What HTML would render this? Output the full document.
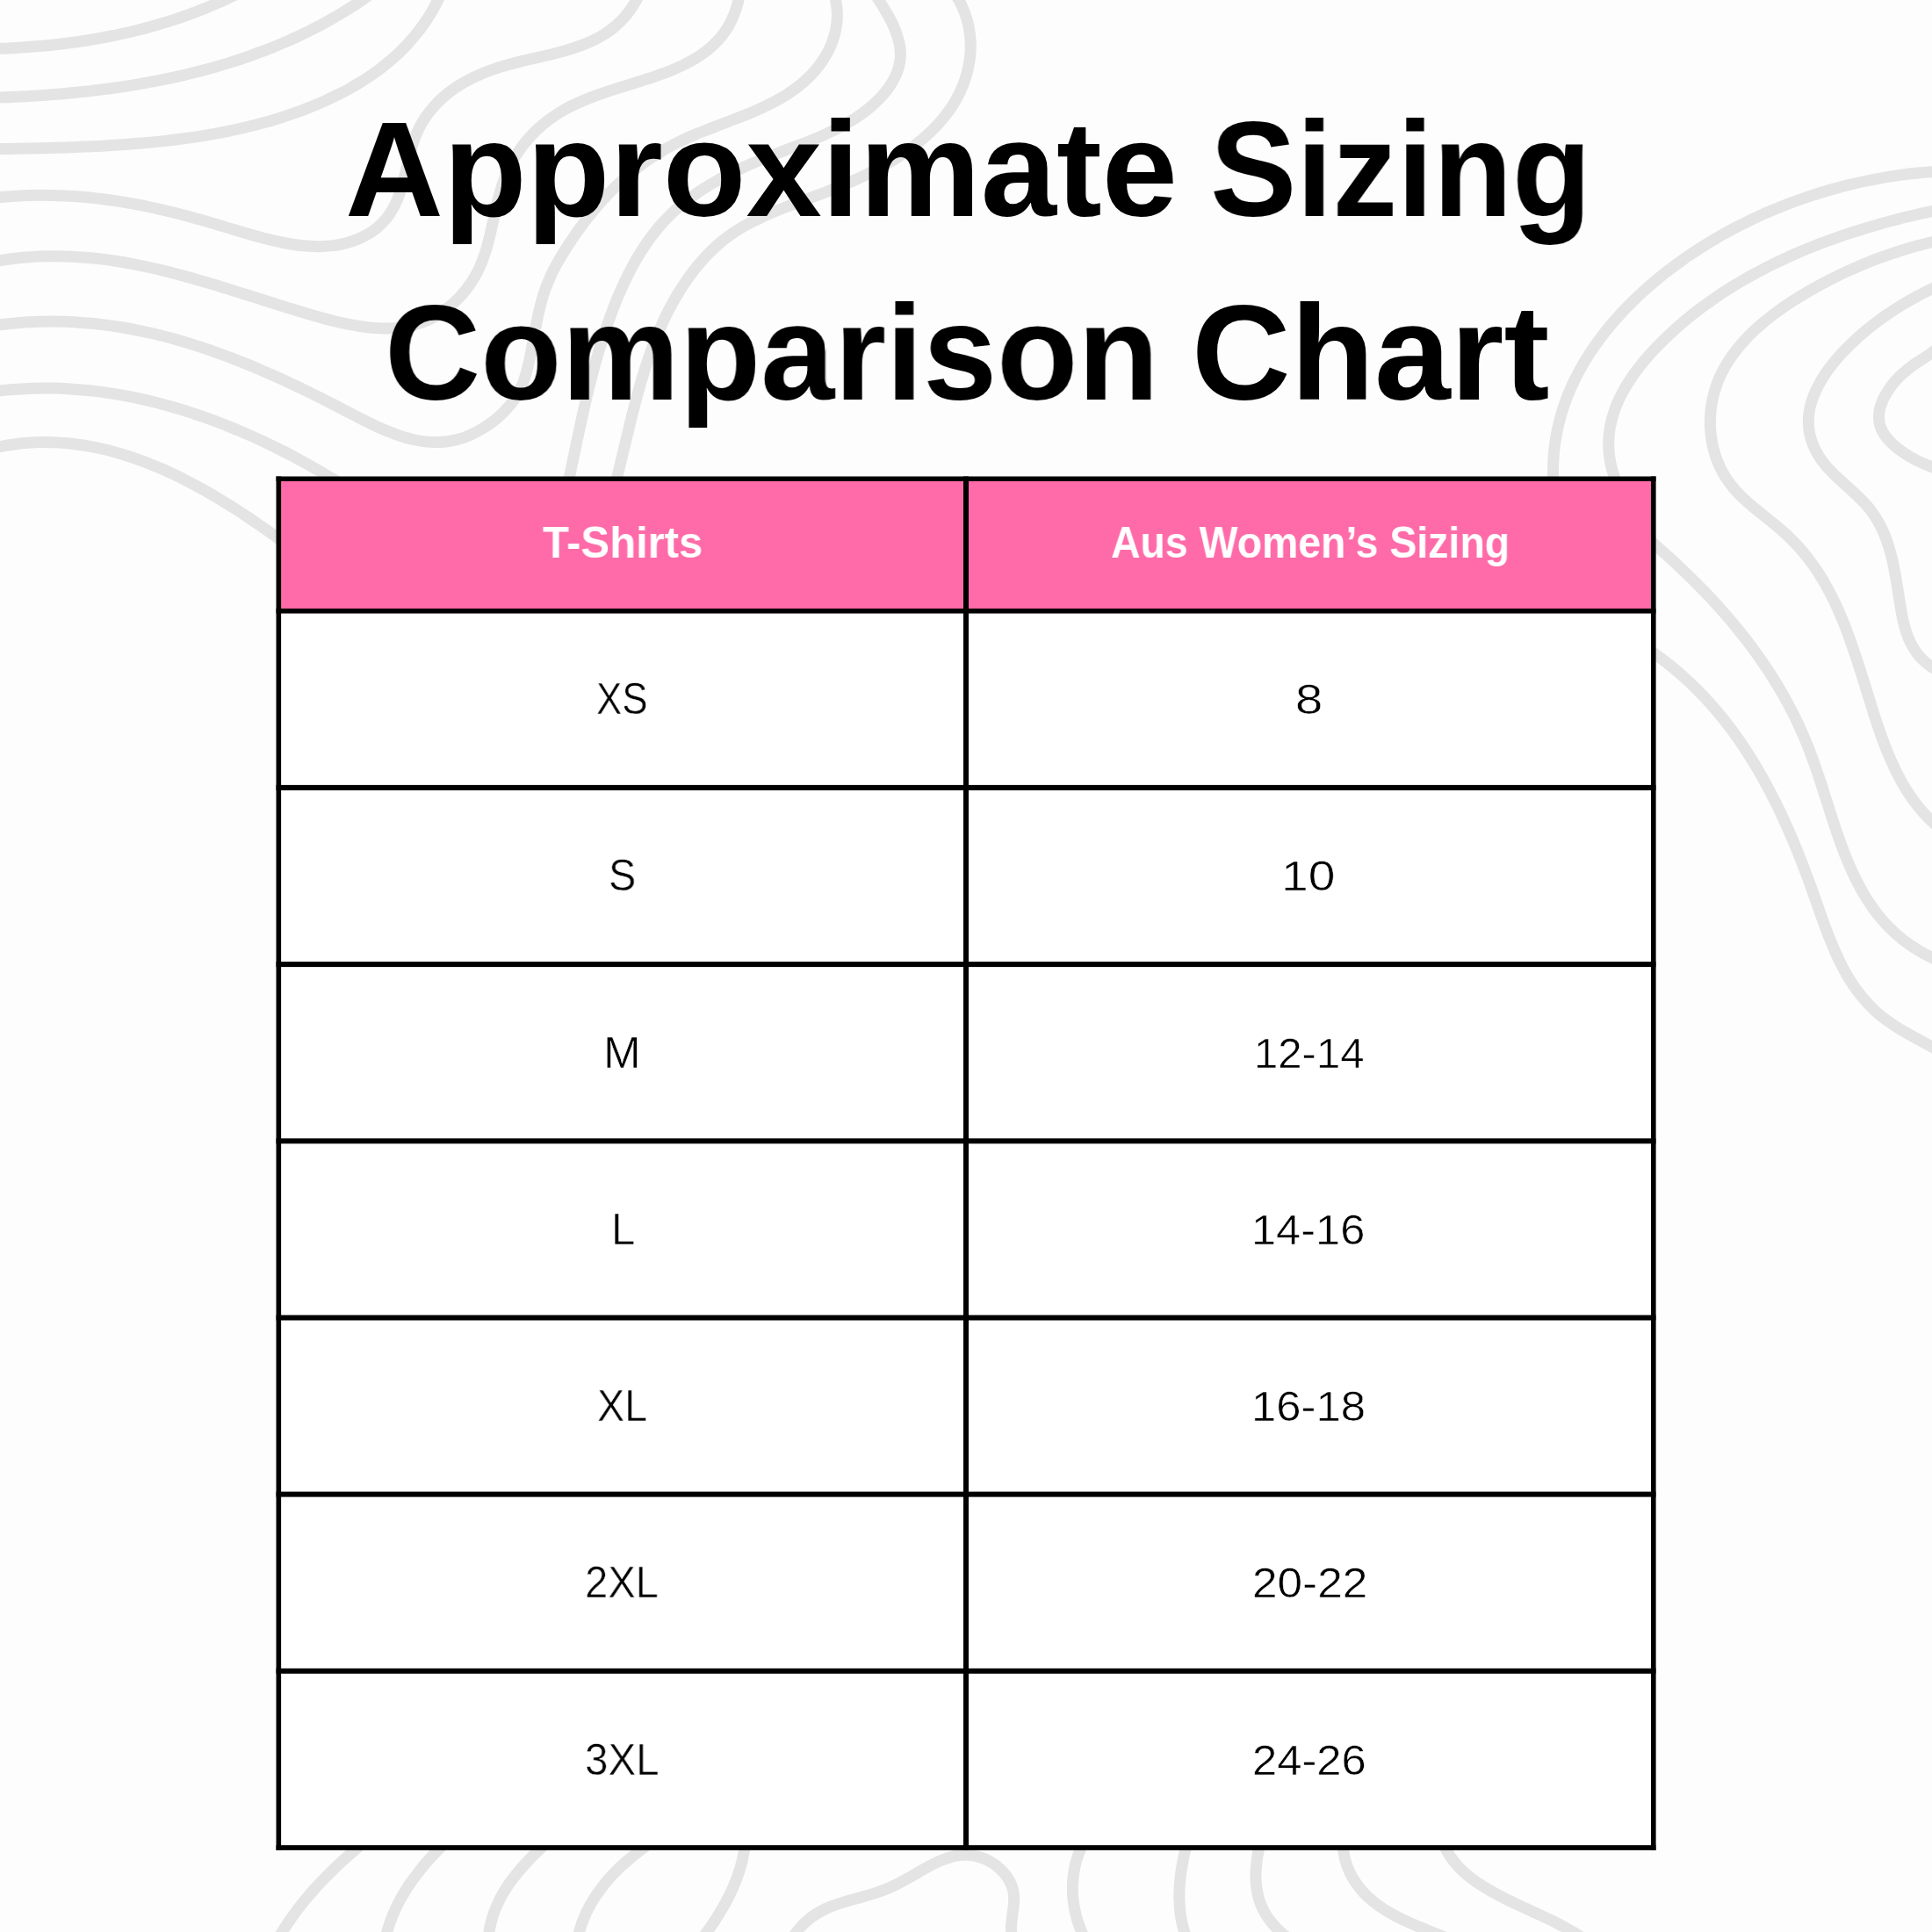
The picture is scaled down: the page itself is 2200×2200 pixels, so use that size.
<!DOCTYPE html>
<html lang="en">
<head>
<meta charset="utf-8">
<title>Approximate Sizing Comparison Chart</title>
<style>
html,body{margin:0;padding:0;}
body{width:2200px;height:2200px;position:relative;overflow:hidden;background:#FDFDFD;font-family:"Liberation Sans",sans-serif;}
svg.bg{position:absolute;left:0;top:0;width:2200px;height:2200px;display:block;}
h1.title{margin:0;padding:0;font-size:0;line-height:0;}
.t{display:block;position:absolute;white-space:nowrap;line-height:1;transform-origin:0 0;margin:0;padding:0;will-change:transform;}
.h{font-weight:700;color:#000;}
.th{font-weight:700;color:#fff;}
.td{font-weight:400;color:#000;-webkit-text-stroke:0.55px #fff;}
</style>
</head>
<body>
<svg class="bg" viewBox="0 0 2200 2200" width="2200" height="2200">
<g fill="none" stroke="#E4E4E4" stroke-width="13.0" stroke-linecap="round" stroke-linejoin="round">
<path d="M-10.0,55.7 C-7.7,55.6 -0.6,55.4 4.0,55.2 C8.7,55.0 13.4,54.8 18.1,54.5 C22.8,54.3 27.4,54.0 32.1,53.6 C36.8,53.3 41.4,52.9 46.1,52.5 C50.8,52.1 55.4,51.6 60.1,51.1 C64.8,50.6 69.4,50.1 74.1,49.5 C78.7,48.9 83.3,48.3 88.0,47.7 C92.6,47.0 97.2,46.3 101.9,45.5 C106.5,44.8 111.1,44.0 115.7,43.1 C120.3,42.3 124.9,41.4 129.5,40.5 C134.1,39.5 138.7,38.5 143.2,37.5 C147.8,36.5 152.4,35.4 156.9,34.2 C161.5,33.1 166.0,31.9 170.5,30.7 C175.0,29.4 179.5,28.1 184.0,26.8 C188.5,25.5 193.0,24.1 197.4,22.6 C201.9,21.2 206.3,19.7 210.7,18.1 C215.2,16.5 219.6,14.9 223.9,13.3 C228.3,11.6 232.7,9.9 237.0,8.1 C241.3,6.3 245.6,4.5 249.9,2.6 C254.2,0.7 258.4,-1.3 262.7,-3.3 C266.9,-5.3 273.2,-8.5 275.3,-9.6"/>
<path d="M-9.8,111.3 C-7.4,111.2 -0.3,111.0 4.5,110.8 C9.3,110.7 14.1,110.5 18.8,110.2 C23.6,110.0 28.4,109.8 33.1,109.5 C37.9,109.2 42.7,108.9 47.5,108.6 C52.2,108.3 57.0,107.9 61.7,107.5 C66.5,107.2 71.3,106.8 76.0,106.3 C80.8,105.9 85.5,105.4 90.3,104.9 C95.1,104.5 99.8,103.9 104.6,103.4 C109.3,102.8 114.0,102.3 118.8,101.6 C123.5,101.0 128.3,100.4 133.0,99.7 C137.7,99.0 142.4,98.3 147.2,97.6 C151.9,96.8 156.6,96.0 161.3,95.2 C166.0,94.4 170.7,93.5 175.4,92.6 C180.1,91.7 184.8,90.8 189.5,89.8 C194.1,88.9 198.8,87.9 203.5,86.8 C208.1,85.8 212.8,84.7 217.4,83.5 C222.1,82.4 226.7,81.2 231.3,80.0 C235.9,78.8 240.5,77.5 245.1,76.2 C249.7,74.9 254.3,73.5 258.9,72.1 C263.5,70.7 268.0,69.3 272.5,67.8 C277.1,66.3 281.6,64.7 286.1,63.1 C290.6,61.5 295.1,59.9 299.6,58.2 C304.0,56.5 308.5,54.7 312.9,52.9 C317.3,51.1 321.7,49.3 326.1,47.4 C330.5,45.4 334.8,43.5 339.2,41.5 C343.5,39.4 347.8,37.4 352.1,35.2 C356.4,33.1 360.6,30.9 364.8,28.7 C369.1,26.4 373.2,24.1 377.4,21.8 C381.6,19.4 385.7,17.0 389.8,14.5 C393.9,12.1 397.9,9.5 401.9,7.0 C406.0,4.4 409.9,1.7 413.9,-1.0 C417.8,-3.7 423.6,-7.9 425.6,-9.3"/>
<path d="M-9.2,169.8 C-6.8,169.8 0.3,169.6 5.1,169.5 C9.9,169.5 14.7,169.4 19.5,169.3 C24.2,169.2 29.0,169.1 33.8,169.0 C38.6,168.9 43.4,168.8 48.1,168.7 C52.9,168.6 57.7,168.4 62.5,168.3 C67.2,168.2 72.0,168.0 76.8,167.9 C81.6,167.7 86.4,167.5 91.1,167.3 C95.9,167.1 100.7,166.9 105.5,166.7 C110.2,166.5 115.0,166.3 119.8,166.0 C124.6,165.7 129.3,165.4 134.1,165.1 C138.9,164.8 143.6,164.5 148.4,164.1 C153.2,163.8 157.9,163.4 162.7,163.0 C167.5,162.5 172.2,162.1 177.0,161.6 C181.7,161.1 186.5,160.6 191.2,160.1 C196.0,159.5 200.7,159.0 205.5,158.3 C210.2,157.7 214.9,157.1 219.7,156.4 C224.4,155.7 229.1,154.9 233.8,154.2 C238.5,153.4 243.3,152.6 248.0,151.7 C252.7,150.8 257.3,149.9 262.0,148.9 C266.7,148.0 271.4,146.9 276.0,145.9 C280.7,144.8 285.3,143.7 290.0,142.5 C294.6,141.3 299.2,140.1 303.8,138.8 C308.4,137.5 313.0,136.1 317.6,134.7 C322.1,133.3 326.7,131.8 331.2,130.2 C335.7,128.7 340.2,127.1 344.7,125.4 C349.2,123.7 353.6,121.9 358.0,120.1 C362.4,118.3 366.8,116.4 371.2,114.4 C375.5,112.4 379.8,110.3 384.1,108.2 C388.4,106.1 392.6,103.9 396.8,101.6 C401.0,99.2 405.1,96.9 409.2,94.4 C413.3,91.9 417.3,89.3 421.3,86.6 C425.2,83.9 429.1,81.2 432.9,78.3 C436.7,75.4 440.5,72.4 444.1,69.3 C447.8,66.2 451.3,63.0 454.8,59.7 C458.2,56.4 461.6,53.0 464.8,49.5 C468.0,45.9 471.2,42.3 474.1,38.6 C477.1,34.9 480.0,31.0 482.8,27.1 C485.5,23.2 488.1,19.2 490.6,15.1 C493.0,11.0 495.4,6.8 497.5,2.6 C499.7,-1.7 502.6,-8.2 503.7,-10.4"/>
<path d="M-10.6,225.6 C-8.3,225.4 -1.3,224.7 3.4,224.3 C8.1,223.9 12.8,223.5 17.4,223.2 C22.1,223.0 26.8,222.7 31.5,222.6 C36.2,222.4 40.9,222.3 45.6,222.3 C50.3,222.3 55.0,222.3 59.7,222.4 C64.3,222.5 69.0,222.7 73.7,222.9 C78.4,223.1 83.1,223.4 87.8,223.7 C92.5,224.1 97.1,224.5 101.8,224.9 C106.5,225.4 111.1,225.9 115.8,226.5 C120.4,227.1 125.1,227.7 129.7,228.4 C134.4,229.1 139.0,229.8 143.6,230.6 C148.3,231.4 152.9,232.3 157.5,233.2 C162.1,234.0 166.7,235.0 171.3,236.0 C175.9,236.9 180.5,238.0 185.0,239.0 C189.6,240.1 194.2,241.2 198.7,242.3 C203.3,243.5 207.8,244.6 212.3,245.8 C216.9,247.1 221.4,248.3 225.9,249.6 C230.4,250.8 235.0,252.1 239.5,253.4 C244.0,254.7 248.5,256.1 252.9,257.4 C257.4,258.8 261.9,260.2 266.4,261.5 C270.9,262.9 275.4,264.2 279.9,265.5 C284.4,266.9 288.9,268.2 293.4,269.4 C298.0,270.6 302.5,271.8 307.1,272.9 C311.6,274.0 316.2,275.1 320.8,276.0 C325.4,277.0 330.0,277.8 334.7,278.5 C339.3,279.2 344.0,279.7 348.6,280.1 C353.3,280.5 358.0,280.7 362.7,280.7 C367.4,280.6 372.1,280.4 376.8,279.9 C381.4,279.4 386.1,278.7 390.6,277.6 C395.2,276.6 399.7,275.3 404.1,273.6 C408.5,272.0 412.8,270.0 416.9,267.8 C421.0,265.5 425.0,263.0 428.7,260.0 C432.3,257.1 435.7,253.8 438.7,250.2 C441.8,246.7 444.4,242.8 446.8,238.7 C449.2,234.7 451.2,230.4 453.0,226.1 C454.7,221.8 456.2,217.3 457.5,212.8 C458.9,208.3 460.0,203.7 461.1,199.2 C462.3,194.6 463.3,190.0 464.4,185.5 C465.5,180.9 466.5,176.3 467.8,171.8 C469.1,167.3 470.4,162.8 472.0,158.4 C473.6,154.0 475.4,149.6 477.5,145.4 C479.6,141.3 482.0,137.2 484.7,133.3 C487.3,129.4 490.2,125.7 493.3,122.2 C496.3,118.7 499.6,115.3 503.1,112.1 C506.6,109.0 510.2,106.0 514.0,103.2 C517.7,100.4 521.7,97.8 525.7,95.4 C529.7,93.0 533.8,90.8 538.0,88.7 C542.2,86.6 546.6,84.7 550.9,82.9 C555.2,81.2 559.7,79.6 564.1,78.1 C568.6,76.6 573.1,75.3 577.6,74.0 C582.1,72.7 586.6,71.6 591.2,70.4 C595.7,69.3 600.3,68.2 604.9,67.2 C609.5,66.1 614.0,65.1 618.6,64.0 C623.2,62.9 627.8,61.9 632.3,60.7 C636.8,59.5 641.4,58.4 645.9,57.0 C650.4,55.7 654.9,54.3 659.3,52.7 C663.7,51.1 668.1,49.4 672.3,47.4 C676.6,45.5 680.8,43.4 684.8,41.0 C688.9,38.6 692.8,36.0 696.5,33.2 C700.3,30.3 703.8,27.2 707.1,23.9 C710.4,20.6 713.5,17.0 716.3,13.2 C719.1,9.5 721.6,5.5 723.9,1.4 C726.2,-2.7 729.0,-9.1 730.1,-11.2"/>
<path d="M-10.7,298.5 C-8.4,298.1 -1.5,296.9 3.1,296.2 C7.7,295.5 12.3,294.9 17.0,294.3 C21.6,293.8 26.3,293.4 30.9,293.0 C35.6,292.6 40.2,292.3 44.9,292.1 C49.5,291.9 54.2,291.8 58.9,291.8 C63.6,291.7 68.2,291.8 72.9,291.9 C77.6,292.0 82.2,292.2 86.9,292.5 C91.5,292.7 96.2,293.1 100.8,293.5 C105.5,293.9 110.1,294.4 114.8,294.9 C119.4,295.5 124.0,296.1 128.7,296.8 C133.3,297.5 137.9,298.2 142.5,299.0 C147.1,299.8 151.7,300.7 156.2,301.6 C160.8,302.5 165.4,303.5 169.9,304.5 C174.5,305.5 179.1,306.5 183.6,307.6 C188.1,308.7 192.7,309.8 197.2,311.0 C201.7,312.2 206.2,313.4 210.7,314.6 C215.2,315.8 219.7,317.1 224.2,318.4 C228.7,319.7 233.2,321.0 237.6,322.3 C242.1,323.7 246.6,325.0 251.0,326.4 C255.5,327.7 260.0,329.1 264.4,330.5 C268.9,331.9 273.3,333.3 277.8,334.7 C282.2,336.1 286.7,337.5 291.1,338.9 C295.6,340.3 300.0,341.8 304.5,343.2 C308.9,344.6 313.4,346.0 317.8,347.4 C322.3,348.8 326.7,350.2 331.2,351.5 C335.7,352.9 340.1,354.3 344.6,355.6 C349.1,357.0 353.5,358.3 358.0,359.6 C362.5,360.9 367.0,362.2 371.5,363.4 C376.0,364.6 380.6,365.7 385.1,366.8 C389.6,367.8 394.2,368.8 398.8,369.7 C403.4,370.6 408.0,371.4 412.6,372.0 C417.2,372.6 421.9,373.2 426.5,373.5 C431.2,373.8 435.9,374.0 440.5,373.9 C445.2,373.8 449.9,373.6 454.5,373.1 C459.1,372.6 463.8,371.8 468.3,370.7 C472.8,369.7 477.3,368.3 481.7,366.7 C486.0,365.0 490.3,363.1 494.4,360.9 C498.5,358.6 502.5,356.1 506.2,353.4 C510.0,350.7 513.6,347.7 517.1,344.5 C520.5,341.4 523.8,338.0 526.8,334.5 C529.9,331.0 532.8,327.3 535.4,323.4 C538.1,319.6 540.5,315.6 542.7,311.5 C544.9,307.4 546.8,303.1 548.5,298.8 C550.3,294.4 551.8,290.0 553.2,285.6 C554.6,281.1 555.8,276.6 556.9,272.1 C558.1,267.5 559.1,263.0 560.1,258.4 C561.2,253.9 562.1,249.3 563.1,244.8 C564.2,240.2 565.1,235.6 566.2,231.1 C567.3,226.6 568.5,222.0 569.8,217.5 C571.1,213.1 572.5,208.6 574.1,204.2 C575.7,199.9 577.6,195.6 579.6,191.4 C581.6,187.2 583.8,183.0 586.2,179.0 C588.7,175.1 591.3,171.2 594.0,167.4 C596.8,163.7 599.8,160.0 602.9,156.6 C606.0,153.1 609.3,149.8 612.7,146.6 C616.2,143.5 619.8,140.4 623.4,137.6 C627.1,134.8 631.0,132.1 634.9,129.6 C638.9,127.1 642.9,124.8 647.0,122.6 C651.2,120.4 655.4,118.4 659.7,116.5 C663.9,114.6 668.2,112.8 672.6,111.1 C676.9,109.4 681.3,107.9 685.7,106.3 C690.1,104.8 694.6,103.3 699.0,101.9 C703.5,100.5 707.9,99.1 712.4,97.7 C716.8,96.3 721.3,94.9 725.8,93.5 C730.2,92.1 734.7,90.7 739.1,89.3 C743.5,87.8 747.9,86.3 752.3,84.7 C756.7,83.1 761.1,81.5 765.4,79.7 C769.7,77.9 774.0,76.0 778.2,74.0 C782.4,71.9 786.5,69.7 790.5,67.4 C794.5,65.0 798.5,62.4 802.2,59.6 C805.9,56.9 809.6,53.9 812.9,50.6 C816.3,47.4 819.5,44.0 822.3,40.3 C825.2,36.6 827.8,32.7 830.1,28.7 C832.4,24.6 834.4,20.4 836.1,16.0 C837.8,11.7 839.2,7.2 840.4,2.7 C841.5,-1.8 842.5,-8.8 843.0,-11.1"/>
<path d="M-10.5,371.2 C-8.2,370.9 -1.3,369.9 3.4,369.3 C8.0,368.8 12.6,368.3 17.3,367.9 C21.9,367.5 26.6,367.1 31.3,366.8 C35.9,366.6 40.6,366.4 45.3,366.2 C49.9,366.1 54.6,366.0 59.3,366.0 C64.0,366.0 68.6,366.1 73.3,366.3 C78.0,366.4 82.6,366.6 87.3,366.9 C92.0,367.2 96.6,367.6 101.3,368.0 C105.9,368.4 110.6,368.9 115.2,369.4 C119.8,370.0 124.5,370.6 129.1,371.3 C133.7,372.0 138.3,372.7 142.9,373.5 C147.5,374.3 152.1,375.2 156.7,376.1 C161.3,377.0 165.8,378.0 170.4,379.0 C175.0,380.0 179.5,381.1 184.0,382.3 C188.6,383.4 193.1,384.6 197.6,385.8 C202.1,387.1 206.6,388.4 211.0,389.7 C215.5,391.1 220.0,392.5 224.4,393.9 C228.9,395.3 233.3,396.8 237.7,398.3 C242.1,399.8 246.5,401.4 250.9,403.0 C255.3,404.6 259.7,406.2 264.1,407.9 C268.4,409.6 272.8,411.3 277.1,413.0 C281.4,414.8 285.8,416.5 290.1,418.3 C294.4,420.2 298.7,422.0 302.9,423.9 C307.2,425.7 311.5,427.6 315.7,429.5 C320.0,431.5 324.2,433.4 328.5,435.4 C332.7,437.4 336.9,439.4 341.1,441.4 C345.4,443.4 349.6,445.5 353.7,447.5 C357.9,449.6 362.1,451.7 366.3,453.8 C370.5,455.9 374.6,458.0 378.8,460.1 C382.9,462.2 387.1,464.4 391.2,466.6 C395.4,468.7 399.5,470.9 403.7,473.0 C407.8,475.2 411.9,477.3 416.1,479.4 C420.3,481.5 424.5,483.6 428.7,485.5 C433.0,487.5 437.2,489.4 441.6,491.1 C445.9,492.9 450.3,494.6 454.7,496.1 C459.1,497.5 463.6,498.9 468.1,500.0 C472.7,501.1 477.3,502.0 481.9,502.6 C486.5,503.2 491.2,503.6 495.9,503.6 C500.5,503.6 505.2,503.4 509.8,502.7 C514.4,502.0 519.0,501.0 523.5,499.7 C528.0,498.4 532.4,496.7 536.6,494.8 C540.9,492.9 545.0,490.7 549.0,488.3 C553.0,485.9 556.9,483.3 560.6,480.5 C564.3,477.7 567.9,474.6 571.3,471.4 C574.7,468.2 577.9,464.8 580.9,461.2 C583.8,457.5 586.6,453.7 588.9,449.7 C591.3,445.7 593.4,441.5 595.1,437.2 C596.9,432.9 598.2,428.3 599.5,423.9 C600.7,419.4 601.7,414.8 602.8,410.2 C603.8,405.7 604.7,401.1 605.5,396.5 C606.4,391.9 607.2,387.3 608.1,382.7 C609.0,378.1 609.8,373.5 610.7,369.0 C611.6,364.4 612.6,359.8 613.6,355.2 C614.7,350.7 615.8,346.2 617.0,341.7 C618.3,337.2 619.7,332.7 621.3,328.3 C622.9,323.9 624.7,319.6 626.6,315.3 C628.5,311.1 630.6,306.9 632.8,302.8 C635.0,298.7 637.4,294.6 639.8,290.6 C642.2,286.6 644.7,282.7 647.2,278.8 C649.8,274.9 652.4,271.0 655.1,267.1 C657.7,263.3 660.5,259.5 663.3,255.8 C666.1,252.0 668.9,248.3 671.8,244.7 C674.8,241.1 677.8,237.5 680.8,234.0 C683.9,230.4 687.0,226.9 690.2,223.5 C693.4,220.1 696.7,216.8 700.0,213.5 C703.4,210.3 706.8,207.1 710.2,204.0 C713.7,200.9 717.3,197.8 720.9,194.9 C724.5,191.9 728.2,189.1 732.0,186.3 C735.8,183.6 739.6,180.9 743.5,178.3 C747.4,175.8 751.4,173.3 755.4,171.0 C759.5,168.6 763.6,166.4 767.7,164.3 C771.9,162.1 776.1,160.1 780.4,158.2 C784.6,156.2 788.9,154.4 793.2,152.6 C797.5,150.8 801.9,149.1 806.2,147.4 C810.6,145.7 814.9,144.0 819.3,142.3 C823.6,140.6 828.0,139.0 832.4,137.3 C836.7,135.6 841.1,134.0 845.4,132.2 C849.8,130.5 854.1,128.7 858.4,126.9 C862.7,125.0 867.0,123.1 871.2,121.1 C875.4,119.1 879.6,117.0 883.7,114.8 C887.8,112.6 891.8,110.2 895.8,107.7 C899.7,105.2 903.6,102.6 907.3,99.8 C911.0,97.0 914.6,94.0 918.0,90.8 C921.5,87.6 924.7,84.3 927.8,80.7 C930.8,77.2 933.7,73.5 936.3,69.6 C938.9,65.8 941.3,61.7 943.4,57.6 C945.5,53.4 947.3,49.1 948.8,44.6 C950.3,40.2 951.5,35.7 952.2,31.1 C953.0,26.5 953.4,21.8 953.4,17.1 C953.4,12.5 953.0,7.8 952.2,3.2 C951.4,-1.4 949.3,-8.1 948.7,-10.4"/>
<path d="M-10.1,446.2 C-7.7,445.9 -0.6,444.9 4.2,444.4 C9.0,443.9 13.8,443.5 18.6,443.2 C23.5,442.8 28.3,442.6 33.1,442.4 C37.9,442.2 42.7,442.1 47.5,442.0 C52.4,442.0 57.2,442.0 62.0,442.1 C66.8,442.2 71.6,442.4 76.5,442.7 C81.3,442.9 86.1,443.3 90.9,443.7 C95.7,444.1 100.5,444.5 105.3,445.1 C110.1,445.6 114.9,446.2 119.6,446.9 C124.4,447.6 129.2,448.3 133.9,449.1 C138.7,449.9 143.4,450.8 148.1,451.7 C152.9,452.6 157.6,453.6 162.3,454.7 C167.0,455.7 171.7,456.9 176.4,458.0 C181.1,459.2 185.7,460.4 190.4,461.7 C195.0,463.0 199.6,464.3 204.3,465.7 C208.9,467.1 213.5,468.6 218.1,470.1 C222.6,471.6 227.2,473.1 231.7,474.7 C236.3,476.3 240.8,478.0 245.3,479.7 C249.9,481.4 254.4,483.1 258.8,484.9 C263.3,486.7 267.8,488.5 272.2,490.4 C276.6,492.3 281.1,494.2 285.5,496.1 C289.9,498.1 294.3,500.1 298.6,502.2 C303.0,504.2 307.3,506.3 311.7,508.4 C316.0,510.5 320.3,512.7 324.6,514.9 C328.9,517.1 333.2,519.3 337.4,521.6 C341.7,523.9 345.9,526.2 350.1,528.5 C354.3,530.9 358.5,533.2 362.7,535.6 C366.9,538.0 371.0,540.5 375.2,543.0 C379.3,545.4 383.4,547.9 387.5,550.5 C391.6,553.0 397.7,556.9 399.8,558.2"/>
<path d="M-10.3,510.8 C-8.0,510.3 -1.0,508.7 3.6,507.8 C8.3,507.0 13.0,506.3 17.7,505.7 C22.4,505.1 27.1,504.6 31.8,504.3 C36.6,503.9 41.3,503.7 46.1,503.6 C50.8,503.5 55.5,503.6 60.3,503.7 C65.0,503.9 69.8,504.2 74.5,504.6 C79.2,505.0 83.9,505.5 88.6,506.2 C93.3,506.8 98.0,507.5 102.7,508.4 C107.3,509.2 112.0,510.2 116.6,511.3 C121.2,512.3 125.8,513.5 130.4,514.7 C135.0,516.0 139.5,517.3 144.0,518.8 C148.6,520.2 153.1,521.7 157.5,523.3 C162.0,524.9 166.4,526.6 170.8,528.4 C175.2,530.1 179.6,531.9 184.0,533.8 C188.3,535.7 192.6,537.7 196.9,539.7 C201.2,541.7 205.5,543.8 209.7,546.0 C213.9,548.1 218.1,550.3 222.3,552.5 C226.5,554.8 230.6,557.1 234.8,559.4 C238.9,561.8 243.0,564.2 247.1,566.6 C251.1,569.0 255.2,571.5 259.2,574.0 C263.2,576.5 267.2,579.0 271.2,581.6 C275.2,584.2 279.1,586.8 283.1,589.5 C287.0,592.1 290.9,594.8 294.8,597.5 C298.8,600.2 302.6,602.9 306.5,605.6 C310.4,608.4 314.2,611.1 318.1,613.9 C321.9,616.7 327.6,620.9 329.5,622.3"/>
<path d="M644.8,560.0 C645.3,557.7 646.8,550.7 647.8,546.1 C648.8,541.4 649.8,536.8 650.7,532.2 C651.7,527.5 652.7,522.9 653.6,518.3 C654.6,513.6 655.6,509.0 656.5,504.4 C657.5,499.7 658.5,495.1 659.5,490.5 C660.5,485.8 661.5,481.2 662.5,476.6 C663.5,472.0 664.5,467.3 665.6,462.7 C666.6,458.1 667.7,453.5 668.8,448.9 C669.9,444.3 671.1,439.7 672.2,435.1 C673.4,430.5 674.6,425.9 675.8,421.4 C677.0,416.8 678.3,412.2 679.6,407.7 C680.9,403.1 682.2,398.6 683.6,394.0 C685.0,389.5 686.4,385.0 687.9,380.5 C689.4,376.0 690.9,371.5 692.5,367.1 C694.1,362.6 695.7,358.2 697.4,353.7 C699.1,349.3 700.8,344.9 702.6,340.5 C704.4,336.2 706.3,331.8 708.3,327.5 C710.2,323.2 712.2,318.9 714.3,314.6 C716.4,310.4 718.6,306.2 720.9,302.0 C723.1,297.9 725.5,293.8 728.0,289.7 C730.4,285.7 733.0,281.7 735.6,277.8 C738.3,273.9 741.1,270.0 744.0,266.3 C746.9,262.6 749.9,258.9 753.0,255.4 C756.2,251.8 759.4,248.4 762.8,245.1 C766.2,241.7 769.7,238.5 773.3,235.5 C776.9,232.4 780.6,229.4 784.4,226.6 C788.1,223.7 792.0,221.0 795.9,218.3 C799.9,215.7 803.9,213.2 807.9,210.7 C812.0,208.3 816.1,205.9 820.2,203.6 C824.4,201.4 828.6,199.2 832.8,197.1 C837.1,195.0 841.3,192.9 845.6,191.0 C849.9,189.0 854.3,187.1 858.6,185.2 C863.0,183.4 867.4,181.6 871.8,179.8 C876.2,178.1 880.6,176.4 885.0,174.7 C889.4,173.0 893.9,171.3 898.3,169.6 C902.7,168.0 907.2,166.3 911.6,164.6 C916.0,162.9 920.4,161.2 924.8,159.4 C929.2,157.6 933.5,155.8 937.9,153.8 C942.2,151.9 946.5,149.9 950.7,147.8 C955.0,145.7 959.2,143.5 963.3,141.2 C967.4,138.8 971.4,136.4 975.4,133.7 C979.3,131.1 983.2,128.4 986.9,125.4 C990.6,122.5 994.2,119.4 997.6,116.1 C1001.0,112.8 1004.3,109.4 1007.3,105.8 C1010.3,102.1 1013.2,98.3 1015.6,94.2 C1018.0,90.2 1020.3,85.9 1021.8,81.5 C1023.4,77.1 1024.6,72.4 1025.1,67.7 C1025.6,63.1 1025.4,58.2 1024.8,53.6 C1024.2,48.9 1022.8,44.3 1021.4,39.8 C1019.9,35.3 1018.0,30.9 1016.0,26.6 C1014.0,22.4 1011.7,18.2 1009.4,14.1 C1007.1,10.0 1004.5,6.0 1002.0,2.0 C999.4,-2.0 995.3,-7.8 994.0,-9.8"/>
<path d="M698.6,559.5 C699.2,557.3 701.0,550.4 702.1,545.8 C703.3,541.3 704.4,536.7 705.5,532.1 C706.6,527.5 707.7,522.9 708.8,518.3 C709.9,513.8 711.0,509.2 712.1,504.6 C713.2,500.0 714.3,495.4 715.4,490.8 C716.5,486.2 717.6,481.6 718.7,477.0 C719.9,472.5 721.0,467.9 722.2,463.3 C723.4,458.8 724.6,454.2 725.8,449.6 C727.1,445.1 728.3,440.5 729.6,436.0 C731.0,431.5 732.3,427.0 733.7,422.5 C735.2,418.0 736.6,413.5 738.1,409.0 C739.7,404.5 741.2,400.1 742.9,395.7 C744.5,391.3 746.3,386.9 748.0,382.5 C749.8,378.1 751.7,373.8 753.6,369.5 C755.6,365.2 757.6,360.9 759.7,356.7 C761.8,352.5 764.0,348.3 766.3,344.2 C768.6,340.1 771.0,336.0 773.5,332.0 C775.9,327.9 778.5,324.0 781.2,320.1 C783.9,316.2 786.6,312.4 789.5,308.7 C792.4,304.9 795.4,301.3 798.5,297.7 C801.6,294.2 804.8,290.7 808.2,287.4 C811.5,284.1 815.0,280.8 818.5,277.8 C822.1,274.7 825.8,271.7 829.6,269.0 C833.4,266.2 837.4,263.6 841.4,261.1 C845.4,258.6 849.5,256.3 853.7,254.1 C857.9,251.9 862.1,249.8 866.4,247.8 C870.6,245.8 875.0,243.9 879.3,242.1 C883.7,240.2 888.0,238.5 892.4,236.8 C896.8,235.0 901.2,233.4 905.7,231.7 C910.1,230.1 914.5,228.4 918.9,226.8 C923.4,225.2 927.8,223.5 932.2,221.9 C936.6,220.2 941.0,218.6 945.4,216.8 C949.8,215.1 954.2,213.4 958.6,211.5 C962.9,209.7 967.3,207.9 971.6,205.9 C975.9,204.0 980.1,202.0 984.4,200.0 C988.6,197.9 992.9,195.8 997.0,193.6 C1001.2,191.4 1005.4,189.1 1009.4,186.8 C1013.5,184.4 1017.6,182.0 1021.6,179.5 C1025.5,176.9 1029.5,174.3 1033.3,171.6 C1037.2,168.9 1041.0,166.1 1044.7,163.1 C1048.4,160.2 1052.0,157.2 1055.5,154.0 C1059.0,150.8 1062.4,147.6 1065.6,144.1 C1068.9,140.7 1072.0,137.2 1075.0,133.5 C1077.9,129.8 1080.8,126.0 1083.4,122.1 C1086.0,118.2 1088.4,114.1 1090.6,110.0 C1092.8,105.8 1094.8,101.5 1096.5,97.1 C1098.2,92.7 1099.7,88.2 1101.0,83.7 C1102.2,79.1 1103.2,74.5 1103.9,69.8 C1104.6,65.2 1105.0,60.4 1105.2,55.7 C1105.3,51.0 1105.2,46.3 1104.7,41.6 C1104.3,36.9 1103.5,32.2 1102.5,27.6 C1101.4,23.1 1100.0,18.5 1098.4,14.1 C1096.7,9.7 1094.7,5.4 1092.5,1.2 C1090.3,-2.9 1086.2,-8.8 1085.0,-10.8"/>
<path d="M2209.1,195.1 C2206.7,195.3 2199.7,195.7 2195.1,196.0 C2190.4,196.4 2185.7,196.8 2181.1,197.3 C2176.4,197.8 2171.8,198.3 2167.1,198.9 C2162.5,199.5 2157.9,200.2 2153.2,200.9 C2148.6,201.6 2144.0,202.4 2139.4,203.3 C2134.8,204.1 2130.2,205.0 2125.6,206.0 C2121.0,206.9 2116.5,207.9 2111.9,209.0 C2107.4,210.0 2102.8,211.2 2098.3,212.3 C2093.8,213.5 2089.2,214.7 2084.7,216.0 C2080.2,217.3 2075.8,218.6 2071.3,220.0 C2066.8,221.4 2062.4,222.9 2057.9,224.4 C2053.5,225.9 2049.1,227.4 2044.7,229.0 C2040.3,230.6 2035.9,232.3 2031.6,234.0 C2027.2,235.7 2022.9,237.5 2018.6,239.3 C2014.3,241.1 2010.0,243.0 2005.7,244.9 C2001.4,246.8 1997.2,248.8 1993.0,250.8 C1988.8,252.8 1984.6,254.9 1980.4,257.1 C1976.2,259.2 1972.1,261.4 1968.0,263.6 C1963.9,265.8 1959.8,268.1 1955.8,270.5 C1951.7,272.8 1947.7,275.2 1943.7,277.7 C1939.7,280.1 1935.8,282.6 1931.8,285.2 C1927.9,287.7 1924.0,290.4 1920.2,293.0 C1916.4,295.7 1912.5,298.4 1908.8,301.2 C1905.0,304.0 1901.3,306.8 1897.6,309.7 C1893.9,312.5 1890.3,315.5 1886.7,318.5 C1883.1,321.5 1879.5,324.5 1876.0,327.6 C1872.5,330.7 1869.0,333.8 1865.6,337.1 C1862.2,340.3 1858.9,343.5 1855.6,346.8 C1852.3,350.2 1849.0,353.5 1845.8,357.0 C1842.7,360.4 1839.6,363.9 1836.5,367.5 C1833.5,371.0 1830.5,374.6 1827.6,378.3 C1824.7,382.0 1821.9,385.7 1819.1,389.5 C1816.4,393.3 1813.7,397.1 1811.1,401.0 C1808.6,404.9 1806.1,408.9 1803.7,412.9 C1801.3,417.0 1799.0,421.0 1796.9,425.2 C1794.7,429.3 1792.6,433.5 1790.6,437.8 C1788.7,442.0 1786.8,446.3 1785.1,450.7 C1783.4,455.0 1781.8,459.4 1780.3,463.9 C1778.9,468.3 1777.5,472.8 1776.3,477.3 C1775.1,481.8 1774.0,486.4 1773.1,491.0 C1772.2,495.6 1771.4,500.2 1770.7,504.8 C1770.1,509.4 1769.6,514.1 1769.2,518.8 C1768.9,523.4 1768.6,528.1 1768.6,532.8 C1768.5,537.5 1768.5,542.1 1768.7,546.8 C1768.9,551.5 1769.6,558.5 1769.8,560.8"/>
<path d="M2209.4,238.5 C2207.1,239.0 2200.3,240.4 2195.7,241.4 C2191.1,242.4 2186.5,243.4 2181.9,244.5 C2177.4,245.6 2172.8,246.7 2168.3,247.8 C2163.7,248.9 2159.2,250.1 2154.6,251.3 C2150.1,252.5 2145.6,253.7 2141.1,255.0 C2136.5,256.3 2132.0,257.6 2127.5,258.9 C2123.0,260.3 2118.6,261.6 2114.1,263.1 C2109.6,264.5 2105.2,265.9 2100.7,267.4 C2096.3,268.9 2091.8,270.5 2087.4,272.1 C2083.0,273.6 2078.6,275.3 2074.2,276.9 C2069.8,278.6 2065.5,280.3 2061.1,282.1 C2056.8,283.8 2052.4,285.6 2048.1,287.5 C2043.8,289.3 2039.5,291.2 2035.3,293.2 C2031.0,295.1 2026.7,297.1 2022.5,299.1 C2018.3,301.2 2014.1,303.3 2009.9,305.4 C2005.7,307.6 2001.6,309.8 1997.5,312.0 C1993.4,314.2 1989.3,316.5 1985.2,318.9 C1981.2,321.3 1977.1,323.7 1973.1,326.1 C1969.1,328.6 1965.2,331.1 1961.3,333.7 C1957.3,336.3 1953.5,338.9 1949.6,341.6 C1945.8,344.3 1942.0,347.0 1938.2,349.8 C1934.4,352.6 1930.7,355.5 1927.0,358.4 C1923.4,361.3 1919.8,364.3 1916.2,367.3 C1912.6,370.4 1909.1,373.5 1905.6,376.6 C1902.1,379.8 1898.7,383.0 1895.3,386.3 C1892.0,389.5 1888.7,392.9 1885.4,396.3 C1882.2,399.7 1879.0,403.1 1875.9,406.6 C1872.9,410.2 1869.9,413.8 1867.0,417.5 C1864.1,421.2 1861.3,424.9 1858.6,428.8 C1856.0,432.7 1853.4,436.6 1851.0,440.7 C1848.7,444.7 1846.4,448.8 1844.4,453.1 C1842.4,457.3 1840.5,461.6 1838.9,466.0 C1837.4,470.4 1836.0,474.9 1834.9,479.5 C1833.8,484.0 1832.9,488.7 1832.4,493.3 C1831.9,498.0 1831.6,502.7 1831.7,507.4 C1831.8,512.1 1832.2,516.8 1832.9,521.4 C1833.5,526.0 1834.5,530.6 1835.8,535.2 C1837.0,539.7 1838.6,544.1 1840.3,548.5 C1842.1,552.8 1845.3,559.1 1846.3,561.2"/>
<path d="M2210.2,273.2 C2207.9,273.7 2201.0,275.3 2196.4,276.5 C2191.8,277.6 2187.3,278.8 2182.7,280.1 C2178.2,281.3 2173.6,282.6 2169.1,284.0 C2164.6,285.4 2160.1,286.8 2155.6,288.3 C2151.1,289.8 2146.7,291.3 2142.3,292.9 C2137.8,294.5 2133.4,296.2 2129.0,298.0 C2124.7,299.7 2120.3,301.5 2116.0,303.4 C2111.6,305.2 2107.3,307.2 2103.1,309.2 C2098.8,311.2 2094.5,313.2 2090.3,315.3 C2086.1,317.4 2081.9,319.5 2077.7,321.7 C2073.5,323.9 2069.4,326.2 2065.3,328.5 C2061.1,330.8 2057.1,333.1 2053.0,335.6 C2049.0,338.0 2045.0,340.5 2041.0,343.0 C2037.0,345.6 2033.1,348.2 2029.3,350.9 C2025.4,353.7 2021.6,356.4 2017.8,359.3 C2014.1,362.2 2010.4,365.1 2006.8,368.2 C2003.2,371.3 1999.7,374.4 1996.3,377.7 C1992.9,380.9 1989.6,384.3 1986.4,387.7 C1983.2,391.2 1980.1,394.8 1977.2,398.5 C1974.3,402.2 1971.5,406.0 1968.9,410.0 C1966.4,413.9 1963.9,418.0 1961.8,422.2 C1959.6,426.4 1957.6,430.7 1955.9,435.1 C1954.2,439.4 1952.8,444.0 1951.6,448.5 C1950.4,453.1 1949.4,457.7 1948.7,462.4 C1948.1,467.0 1947.6,471.8 1947.5,476.5 C1947.3,481.2 1947.4,485.9 1947.8,490.6 C1948.1,495.3 1948.8,500.0 1949.7,504.6 C1950.6,509.2 1951.8,513.8 1953.2,518.3 C1954.7,522.8 1956.4,527.2 1958.4,531.5 C1960.4,535.7 1962.7,539.9 1965.2,543.9 C1967.7,547.8 1970.6,551.6 1973.6,555.3 C1976.6,558.9 1979.9,562.3 1983.2,565.6 C1986.6,568.9 1990.1,572.0 1993.7,575.1 C1997.3,578.2 2001.0,581.1 2004.6,584.1 C2008.3,587.1 2012.0,590.0 2015.7,593.0 C2019.3,596.0 2023.0,598.9 2026.6,602.0 C2030.2,605.1 2033.7,608.2 2037.1,611.4 C2040.5,614.7 2043.8,618.1 2047.0,621.6 C2050.2,625.0 2053.2,628.6 2056.2,632.3 C2059.1,636.0 2062.0,639.7 2064.7,643.6 C2067.4,647.4 2070.0,651.4 2072.6,655.4 C2075.1,659.4 2077.5,663.4 2079.8,667.6 C2082.1,671.7 2084.2,675.8 2086.4,680.1 C2088.5,684.3 2090.5,688.6 2092.4,692.9 C2094.4,697.1 2096.2,701.5 2098.0,705.8 C2099.8,710.2 2101.5,714.6 2103.2,719.0 C2104.9,723.4 2106.5,727.9 2108.0,732.3 C2109.6,736.8 2111.1,741.2 2112.6,745.7 C2114.1,750.2 2115.6,754.7 2117.0,759.2 C2118.4,763.6 2119.9,768.1 2121.3,772.7 C2122.7,777.2 2124.1,781.7 2125.5,786.2 C2126.9,790.7 2128.2,795.2 2129.7,799.7 C2131.1,804.2 2132.5,808.7 2133.9,813.2 C2135.4,817.7 2136.8,822.2 2138.3,826.6 C2139.8,831.1 2141.4,835.5 2143.0,840.0 C2144.6,844.4 2146.3,848.8 2148.0,853.2 C2149.7,857.6 2151.5,862.0 2153.5,866.3 C2155.4,870.6 2157.4,874.9 2159.5,879.1 C2161.6,883.3 2163.8,887.5 2166.1,891.6 C2168.5,895.7 2170.9,899.7 2173.5,903.6 C2176.1,907.6 2178.9,911.4 2181.7,915.1 C2184.6,918.9 2187.6,922.5 2190.8,926.0 C2193.9,929.6 2197.2,932.9 2200.6,936.2 C2204.0,939.4 2209.5,944.0 2211.3,945.5"/>
<path d="M2210.0,324.1 C2207.9,325.1 2201.5,328.1 2197.3,330.1 C2193.1,332.2 2188.9,334.3 2184.7,336.5 C2180.6,338.8 2176.5,341.0 2172.4,343.4 C2168.3,345.7 2164.3,348.1 2160.4,350.6 C2156.4,353.1 2152.5,355.7 2148.6,358.4 C2144.7,361.0 2140.9,363.8 2137.2,366.6 C2133.4,369.4 2129.7,372.3 2126.1,375.3 C2122.5,378.3 2118.9,381.3 2115.4,384.5 C2112.0,387.6 2108.5,390.8 2105.2,394.1 C2101.9,397.4 2098.6,400.8 2095.5,404.3 C2092.3,407.8 2089.3,411.4 2086.4,415.0 C2083.5,418.7 2080.7,422.5 2078.1,426.4 C2075.5,430.3 2073.0,434.4 2070.9,438.5 C2068.7,442.6 2066.6,446.9 2065.0,451.3 C2063.3,455.7 2061.9,460.2 2060.9,464.7 C2060.0,469.3 2059.3,474.0 2059.3,478.7 C2059.2,483.4 2059.6,488.1 2060.5,492.7 C2061.3,497.3 2062.7,501.9 2064.4,506.2 C2066.1,510.5 2068.3,514.8 2070.7,518.7 C2073.2,522.7 2076.0,526.5 2079.0,530.1 C2082.0,533.7 2085.4,537.0 2088.7,540.3 C2092.0,543.6 2095.5,546.8 2099.0,549.9 C2102.4,553.1 2106.0,556.2 2109.4,559.4 C2112.9,562.6 2116.4,565.7 2119.6,569.1 C2122.9,572.4 2126.1,575.9 2129.0,579.6 C2131.9,583.2 2134.6,587.1 2137.0,591.1 C2139.5,595.1 2141.6,599.3 2143.6,603.6 C2145.6,607.8 2147.3,612.2 2148.8,616.6 C2150.4,621.0 2151.7,625.6 2152.9,630.1 C2154.2,634.6 2155.2,639.2 2156.2,643.8 C2157.1,648.4 2158.0,653.0 2158.8,657.6 C2159.6,662.2 2160.3,666.9 2161.1,671.5 C2161.8,676.1 2162.5,680.8 2163.2,685.4 C2164.0,690.0 2164.7,694.7 2165.6,699.3 C2166.5,703.9 2167.4,708.5 2168.7,713.0 C2169.9,717.5 2171.3,722.1 2173.1,726.4 C2174.9,730.7 2177.0,735.0 2179.5,738.9 C2182.0,742.8 2184.9,746.6 2188.1,750.0 C2191.4,753.3 2195.1,756.3 2198.9,759.0 C2202.8,761.6 2209.2,764.6 2211.3,765.7"/>
<path d="M2210.0,393.8 C2208.0,395.3 2202.1,400.0 2198.1,402.9 C2194.0,405.8 2189.7,408.3 2185.6,411.1 C2181.4,414.0 2177.2,416.7 2173.3,419.8 C2169.4,422.9 2165.6,426.2 2162.1,429.7 C2158.6,433.3 2155.3,437.1 2152.4,441.2 C2149.5,445.2 2146.8,449.5 2144.7,454.0 C2142.7,458.5 2140.8,463.3 2140.0,468.2 C2139.3,473.0 2139.2,478.3 2140.4,483.1 C2141.5,487.8 2144.1,492.4 2146.9,496.5 C2149.7,500.5 2153.4,504.1 2157.1,507.4 C2160.8,510.7 2164.9,513.7 2169.0,516.4 C2173.2,519.2 2177.6,521.6 2182.0,523.9 C2186.5,526.2 2191.1,528.1 2195.7,530.0 C2200.3,532.0 2207.3,534.6 2209.6,535.5"/>
<path d="M1868.7,606.7 C1870.5,608.2 1876.0,612.8 1879.6,615.9 C1883.2,619.0 1886.7,622.1 1890.3,625.3 C1893.9,628.4 1897.4,631.6 1900.9,634.8 C1904.4,638.0 1907.9,641.2 1911.3,644.4 C1914.8,647.7 1918.2,651.0 1921.6,654.3 C1925.0,657.6 1928.4,660.9 1931.8,664.3 C1935.1,667.6 1938.4,671.0 1941.7,674.4 C1945.0,677.9 1948.2,681.3 1951.5,684.8 C1954.7,688.3 1957.9,691.8 1961.0,695.4 C1964.1,698.9 1967.3,702.5 1970.3,706.1 C1973.4,709.8 1976.4,713.4 1979.4,717.1 C1982.4,720.8 1985.3,724.5 1988.2,728.3 C1991.1,732.0 1994.0,735.8 1996.8,739.6 C1999.6,743.4 2002.4,747.3 2005.1,751.2 C2007.8,755.1 2010.5,759.0 2013.1,763.0 C2015.7,766.9 2018.2,770.9 2020.7,775.0 C2023.2,779.0 2025.7,783.1 2028.1,787.2 C2030.4,791.3 2032.8,795.4 2035.0,799.6 C2037.3,803.8 2039.5,808.0 2041.6,812.2 C2043.8,816.4 2045.9,820.7 2047.9,825.0 C2049.9,829.3 2051.8,833.6 2053.7,838.0 C2055.6,842.3 2057.4,846.7 2059.1,851.1 C2060.9,855.6 2062.5,860.0 2064.2,864.5 C2065.8,868.9 2067.3,873.4 2068.9,877.9 C2070.4,882.4 2071.9,886.9 2073.4,891.4 C2074.9,895.9 2076.3,900.4 2077.7,904.9 C2079.2,909.5 2080.6,914.0 2082.1,918.5 C2083.5,923.0 2084.9,927.5 2086.4,932.0 C2087.9,936.6 2089.4,941.1 2090.9,945.6 C2092.4,950.1 2094.0,954.5 2095.6,959.0 C2097.2,963.5 2098.9,967.9 2100.6,972.3 C2102.3,976.7 2104.1,981.1 2106.0,985.5 C2107.9,989.8 2109.9,994.2 2111.9,998.4 C2114.0,1002.7 2116.1,1006.9 2118.4,1011.1 C2120.7,1015.3 2123.1,1019.4 2125.6,1023.4 C2128.1,1027.4 2130.8,1031.3 2133.6,1035.2 C2136.4,1039.0 2139.3,1042.8 2142.4,1046.4 C2145.4,1050.0 2148.6,1053.5 2152.0,1056.8 C2155.3,1060.2 2158.8,1063.4 2162.5,1066.5 C2166.1,1069.5 2169.8,1072.5 2173.7,1075.2 C2177.6,1077.9 2181.6,1080.5 2185.6,1082.9 C2189.7,1085.4 2193.9,1087.6 2198.2,1089.7 C2202.4,1091.8 2209.0,1094.5 2211.2,1095.5"/>
<path d="M1868.3,733.6 C1870.3,734.9 1876.2,738.8 1880.1,741.4 C1884.0,744.1 1887.8,746.9 1891.5,749.7 C1895.3,752.5 1899.0,755.4 1902.7,758.4 C1906.3,761.4 1909.9,764.4 1913.5,767.5 C1917.0,770.6 1920.5,773.8 1923.9,777.0 C1927.4,780.2 1930.7,783.5 1934.0,786.9 C1937.3,790.2 1940.6,793.6 1943.8,797.1 C1947.0,800.6 1950.1,804.1 1953.2,807.7 C1956.2,811.2 1959.2,814.9 1962.2,818.5 C1965.1,822.2 1968.0,825.9 1970.8,829.7 C1973.6,833.5 1976.4,837.3 1979.1,841.1 C1981.8,845.0 1984.5,848.9 1987.1,852.8 C1989.7,856.7 1992.2,860.7 1994.7,864.7 C1997.2,868.7 1999.6,872.7 2002.0,876.8 C2004.3,880.9 2006.7,885.0 2008.9,889.1 C2011.2,893.2 2013.4,897.3 2015.6,901.5 C2017.8,905.7 2019.9,909.9 2022.0,914.1 C2024.1,918.3 2026.2,922.6 2028.2,926.8 C2030.2,931.1 2032.1,935.4 2034.1,939.7 C2036.0,944.0 2037.9,948.3 2039.7,952.6 C2041.6,956.9 2043.4,961.3 2045.2,965.6 C2047.0,970.0 2048.7,974.4 2050.4,978.7 C2052.2,983.1 2053.9,987.5 2055.5,991.9 C2057.2,996.3 2058.8,1000.7 2060.5,1005.2 C2062.1,1009.6 2063.7,1014.0 2065.2,1018.4 C2066.8,1022.9 2068.4,1027.3 2069.9,1031.8 C2071.5,1036.2 2073.0,1040.7 2074.6,1045.1 C2076.2,1049.5 2077.8,1053.9 2079.5,1058.3 C2081.1,1062.8 2082.8,1067.2 2084.6,1071.5 C2086.4,1075.9 2088.2,1080.2 2090.1,1084.5 C2092.0,1088.8 2094.0,1093.1 2096.1,1097.3 C2098.2,1101.5 2100.5,1105.7 2102.8,1109.7 C2105.2,1113.8 2107.6,1117.8 2110.3,1121.7 C2112.9,1125.6 2115.7,1129.4 2118.6,1133.1 C2121.5,1136.8 2124.6,1140.4 2127.9,1143.8 C2131.1,1147.2 2134.5,1150.5 2138.0,1153.6 C2141.6,1156.7 2145.3,1159.6 2149.1,1162.3 C2152.9,1165.1 2156.9,1167.7 2160.9,1170.2 C2164.8,1172.7 2168.9,1175.0 2173.0,1177.4 C2177.1,1179.7 2181.3,1181.9 2185.4,1184.2 C2189.5,1186.4 2193.7,1188.6 2197.8,1190.9 C2201.9,1193.2 2208.0,1196.8 2210.1,1197.9"/>
<path d="M422.7,2091.2 C420.8,2092.8 415.1,2097.4 411.3,2100.5 C407.6,2103.6 403.8,2106.8 400.2,2110.0 C396.5,2113.2 392.8,2116.5 389.2,2119.8 C385.6,2123.1 382.1,2126.5 378.6,2129.9 C375.1,2133.3 371.6,2136.8 368.2,2140.3 C364.8,2143.8 361.5,2147.4 358.2,2151.0 C354.9,2154.7 351.7,2158.4 348.6,2162.1 C345.5,2165.9 342.4,2169.7 339.4,2173.6 C336.5,2177.5 333.6,2181.4 330.8,2185.5 C328.0,2189.5 325.3,2193.5 322.7,2197.7 C320.0,2201.8 316.4,2208.2 315.1,2210.3"/>
<path d="M514.2,2091.5 C512.5,2093.2 507.3,2098.1 503.9,2101.4 C500.5,2104.8 497.1,2108.2 493.9,2111.7 C490.6,2115.2 487.4,2118.7 484.3,2122.3 C481.2,2126.0 478.2,2129.7 475.3,2133.5 C472.3,2137.2 469.5,2141.1 466.8,2145.0 C464.1,2149.0 461.6,2153.0 459.1,2157.1 C456.7,2161.2 454.4,2165.4 452.3,2169.7 C450.2,2174.0 448.2,2178.4 446.5,2182.8 C444.7,2187.2 443.1,2191.8 441.8,2196.3 C440.4,2200.9 438.9,2207.9 438.3,2210.2"/>
<path d="M630.2,2091.6 C628.4,2093.2 623.0,2098.0 619.5,2101.2 C615.9,2104.5 612.4,2107.8 609.0,2111.2 C605.6,2114.5 602.2,2118.0 599.0,2121.5 C595.7,2125.0 592.5,2128.6 589.5,2132.3 C586.5,2136.0 583.5,2139.8 580.7,2143.7 C578.0,2147.7 575.3,2151.7 572.9,2155.8 C570.5,2160.0 568.3,2164.2 566.3,2168.6 C564.3,2173.0 562.6,2177.5 561.1,2182.0 C559.7,2186.6 558.5,2191.3 557.6,2196.0 C556.8,2200.7 556.2,2207.9 555.9,2210.3"/>
<path d="M751.2,2091.7 C749.3,2093.0 743.3,2096.8 739.4,2099.5 C735.5,2102.2 731.7,2105.0 727.9,2107.8 C724.2,2110.7 720.5,2113.6 716.9,2116.7 C713.3,2119.7 709.7,2122.9 706.3,2126.1 C702.9,2129.4 699.5,2132.7 696.3,2136.2 C693.1,2139.7 690.0,2143.2 687.1,2146.9 C684.2,2150.6 681.4,2154.5 678.7,2158.4 C676.1,2162.3 673.7,2166.4 671.4,2170.5 C669.2,2174.7 667.1,2178.9 665.3,2183.3 C663.5,2187.6 661.8,2192.1 660.5,2196.6 C659.1,2201.1 657.6,2208.0 657.1,2210.3"/>
<path d="M849.4,2091.1 C849.1,2093.6 848.5,2100.8 847.8,2105.6 C847.0,2110.4 846.0,2115.2 844.9,2119.9 C843.7,2124.6 842.3,2129.3 840.7,2133.9 C839.2,2138.5 837.4,2143.1 835.5,2147.5 C833.6,2152.0 831.5,2156.4 829.3,2160.7 C827.1,2165.1 824.8,2169.3 822.3,2173.6 C819.9,2177.8 817.3,2181.9 814.7,2186.0 C812.1,2190.1 809.3,2194.1 806.5,2198.1 C803.7,2202.0 799.4,2207.9 797.9,2209.8"/>
<path d="M900.0,2211.0 C901.3,2209.0 904.9,2202.8 907.9,2199.0 C910.8,2195.3 914.0,2191.7 917.5,2188.5 C921.0,2185.3 924.9,2182.4 928.9,2179.8 C932.9,2177.2 937.1,2175.0 941.5,2173.0 C945.8,2171.0 950.3,2169.4 954.8,2167.9 C959.3,2166.3 963.9,2165.0 968.5,2163.7 C973.1,2162.4 977.8,2161.2 982.3,2159.9 C986.9,2158.6 991.5,2157.3 996.1,2155.9 C1000.6,2154.4 1005.1,2152.8 1009.6,2151.0 C1014.0,2149.2 1018.3,2147.2 1022.5,2145.0 C1026.8,2142.9 1030.9,2140.5 1035.1,2138.1 C1039.3,2135.8 1043.3,2133.3 1047.5,2131.0 C1051.7,2128.6 1055.8,2126.2 1060.0,2124.0 C1064.3,2121.9 1068.6,2119.7 1073.0,2118.0 C1077.4,2116.2 1082.0,2114.6 1086.6,2113.6 C1091.3,2112.7 1096.1,2112.0 1100.8,2112.2 C1105.6,2112.3 1110.4,2113.2 1114.9,2114.5 C1119.5,2115.8 1123.9,2117.8 1128.0,2120.2 C1132.1,2122.6 1136.1,2125.5 1139.5,2128.7 C1142.9,2132.0 1146.1,2135.8 1148.5,2139.8 C1150.9,2143.9 1152.8,2148.5 1153.8,2153.0 C1154.8,2157.6 1154.7,2162.6 1154.5,2167.3 C1154.3,2172.0 1153.3,2176.8 1152.8,2181.5 C1152.3,2186.3 1151.3,2191.0 1151.4,2195.8 C1151.5,2200.5 1153.0,2207.5 1153.3,2209.9"/>
<path d="M1238.5,2090.1 C1237.3,2092.4 1233.2,2099.2 1231.1,2103.9 C1229.0,2108.7 1227.2,2113.6 1225.7,2118.7 C1224.3,2123.7 1223.2,2128.8 1222.5,2134.0 C1221.7,2139.2 1221.4,2144.4 1221.3,2149.6 C1221.3,2154.9 1221.6,2160.1 1222.3,2165.3 C1222.9,2170.5 1223.9,2175.7 1225.2,2180.7 C1226.4,2185.8 1228.0,2190.8 1229.9,2195.7 C1231.8,2200.6 1235.2,2207.6 1236.3,2210.0"/>
<path d="M1354.1,2090.0 C1353.5,2092.5 1351.4,2099.9 1350.2,2104.8 C1349.0,2109.8 1347.9,2114.7 1346.9,2119.7 C1346.0,2124.7 1345.1,2129.8 1344.5,2134.8 C1343.8,2139.9 1343.3,2145.0 1343.1,2150.1 C1342.8,2155.1 1342.7,2160.3 1343.0,2165.3 C1343.2,2170.4 1343.6,2175.5 1344.3,2180.6 C1345.1,2185.6 1346.1,2190.6 1347.4,2195.5 C1348.7,2200.4 1351.4,2207.6 1352.2,2210.0"/>
<path d="M1437.5,2090.0 C1436.8,2092.4 1434.8,2099.6 1433.7,2104.5 C1432.6,2109.4 1431.7,2114.3 1431.1,2119.3 C1430.5,2124.2 1430.0,2129.2 1430.0,2134.2 C1429.9,2139.2 1430.1,2144.2 1430.8,2149.1 C1431.4,2154.1 1432.4,2159.0 1433.9,2163.8 C1435.5,2168.5 1437.5,2173.1 1439.9,2177.5 C1442.3,2181.8 1445.2,2186.0 1448.4,2189.8 C1451.5,2193.7 1455.0,2197.3 1458.7,2200.6 C1462.4,2203.9 1468.6,2208.3 1470.5,2209.8"/>
<path d="M1529.5,2089.6 C1529.5,2092.0 1529.0,2099.3 1529.5,2104.0 C1529.9,2108.8 1530.7,2113.7 1531.9,2118.3 C1533.2,2122.9 1534.9,2127.5 1536.9,2131.9 C1539.0,2136.3 1541.4,2140.5 1544.2,2144.4 C1546.9,2148.4 1550.0,2152.2 1553.3,2155.7 C1556.6,2159.2 1560.2,2162.4 1564.0,2165.5 C1567.7,2168.5 1571.7,2171.3 1575.7,2173.9 C1579.8,2176.6 1584.0,2179.0 1588.2,2181.3 C1592.5,2183.6 1596.8,2185.7 1601.2,2187.7 C1605.6,2189.8 1610.0,2191.7 1614.5,2193.6 C1618.9,2195.5 1623.4,2197.3 1627.9,2199.1 C1632.4,2200.9 1636.9,2202.6 1641.4,2204.4 C1645.9,2206.2 1652.6,2209.0 1654.8,2209.9"/>
<path d="M1640.1,2089.7 C1640.9,2091.9 1643.1,2098.7 1645.1,2102.9 C1647.1,2107.2 1649.5,2111.3 1652.2,2115.1 C1654.9,2119.0 1657.9,2122.7 1661.1,2126.1 C1664.3,2129.5 1667.8,2132.7 1671.5,2135.8 C1675.1,2138.8 1678.9,2141.6 1682.8,2144.2 C1686.7,2146.9 1690.7,2149.3 1694.8,2151.7 C1698.9,2154.1 1703.0,2156.4 1707.2,2158.6 C1711.4,2160.8 1715.6,2162.8 1719.8,2164.9 C1724.1,2167.0 1728.4,2169.0 1732.6,2171.0 C1736.9,2173.0 1741.2,2174.9 1745.5,2176.9 C1749.8,2178.9 1754.1,2180.8 1758.3,2182.9 C1762.6,2184.9 1766.9,2186.9 1771.1,2189.0 C1775.3,2191.2 1779.5,2193.3 1783.6,2195.6 C1787.7,2197.9 1791.8,2200.2 1795.9,2202.7 C1799.9,2205.2 1805.7,2209.2 1807.7,2210.5"/>
</g>
<rect x="316.5" y="544.5" width="1567.0" height="1560.3000000000002" fill="#FFFFFF"/>
<rect x="316.5" y="544.5" width="1567.0" height="151.25" fill="#FF6BA8"/>
<g fill="#000000">
<rect x="314.50" y="542.50" width="1571.00" height="5.50"/>
<rect x="314.50" y="692.95" width="1571.00" height="5.60"/>
<rect x="314.50" y="893.90" width="1571.00" height="6.00"/>
<rect x="314.50" y="1095.10" width="1571.00" height="6.00"/>
<rect x="314.50" y="1296.30" width="1571.00" height="6.00"/>
<rect x="314.50" y="1497.50" width="1571.00" height="6.00"/>
<rect x="314.50" y="1698.60" width="1571.00" height="6.00"/>
<rect x="314.50" y="1899.80" width="1571.00" height="6.00"/>
<rect x="314.50" y="2101.15" width="1571.00" height="5.70"/>
<rect x="314.50" y="542.50" width="5.60" height="1564.30"/>
<rect x="1097.00" y="542.50" width="6.00" height="1564.30"/>
<rect x="1880.00" y="542.50" width="5.60" height="1564.30"/>
</g>
</svg>
<h1 class="title">
<span class="t h" style="left:393.27px;top:115.64px;font-size:154.00px;transform:scaleX(1.0070)">Approximate</span>
<span class="t h" style="left:1377.81px;top:115.64px;font-size:154.00px;transform:scaleX(0.9575)">Sizing</span>
<span class="t h" style="left:438.11px;top:324.64px;font-size:154.00px;transform:scaleX(0.9814)">Comparison</span>
<span class="t h" style="left:1357.32px;top:324.64px;font-size:154.00px;transform:scaleX(1.0129)">Chart</span>
</h1>
<div class="chart" role="table">
<div role="row">
<div class="t th" role="columnheader" style="left:617.81px;top:594.41px;font-size:49.60px;transform:scaleX(0.9867)">T-Shirts</div>
<div class="t th" role="columnheader" style="left:1264.96px;top:594.41px;font-size:49.60px;transform:scaleX(0.9362)">Aus Women’s Sizing</div>
</div>
<div role="row">
<div class="t td" role="cell" style="left:679.12px;top:771.07px;font-size:49.30px;transform:scaleX(0.8885)">XS</div>
<div class="t td" role="cell" style="left:1475.30px;top:772.20px;font-size:48.20px;transform:scaleX(1.1667)">8</div>
</div>
<div role="row">
<div class="t td" role="cell" style="left:693.26px;top:972.32px;font-size:49.30px;transform:scaleX(0.9481)">S</div>
<div class="t td" role="cell" style="left:1459.42px;top:973.45px;font-size:48.20px;transform:scaleX(1.1447)">10</div>
</div>
<div role="row">
<div class="t td" role="cell" style="left:687.35px;top:1173.57px;font-size:49.30px;transform:scaleX(1.0364)">M</div>
<div class="t td" role="cell" style="left:1427.62px;top:1174.70px;font-size:48.20px;transform:scaleX(1.0188)">12-14</div>
</div>
<div role="row">
<div class="t td" role="cell" style="left:695.60px;top:1374.82px;font-size:49.30px;transform:scaleX(1.0000)">L</div>
<div class="t td" role="cell" style="left:1424.81px;top:1375.95px;font-size:48.20px;transform:scaleX(1.0487)">14-16</div>
</div>
<div role="row">
<div class="t td" role="cell" style="left:679.71px;top:1576.07px;font-size:49.30px;transform:scaleX(0.9464)">XL</div>
<div class="t td" role="cell" style="left:1424.78px;top:1577.20px;font-size:48.20px;transform:scaleX(1.0538)">16-18</div>
</div>
<div role="row">
<div class="t td" role="cell" style="left:665.73px;top:1777.32px;font-size:49.30px;transform:scaleX(0.9566)">2XL</div>
<div class="t td" role="cell" style="left:1425.81px;top:1778.45px;font-size:48.20px;transform:scaleX(1.0650)">20-22</div>
</div>
<div role="row">
<div class="t td" role="cell" style="left:665.71px;top:1978.57px;font-size:49.30px;transform:scaleX(0.9639)">3XL</div>
<div class="t td" role="cell" style="left:1425.84px;top:1979.70px;font-size:48.20px;transform:scaleX(1.0534)">24-26</div>
</div>
</div>

</body>
</html>
